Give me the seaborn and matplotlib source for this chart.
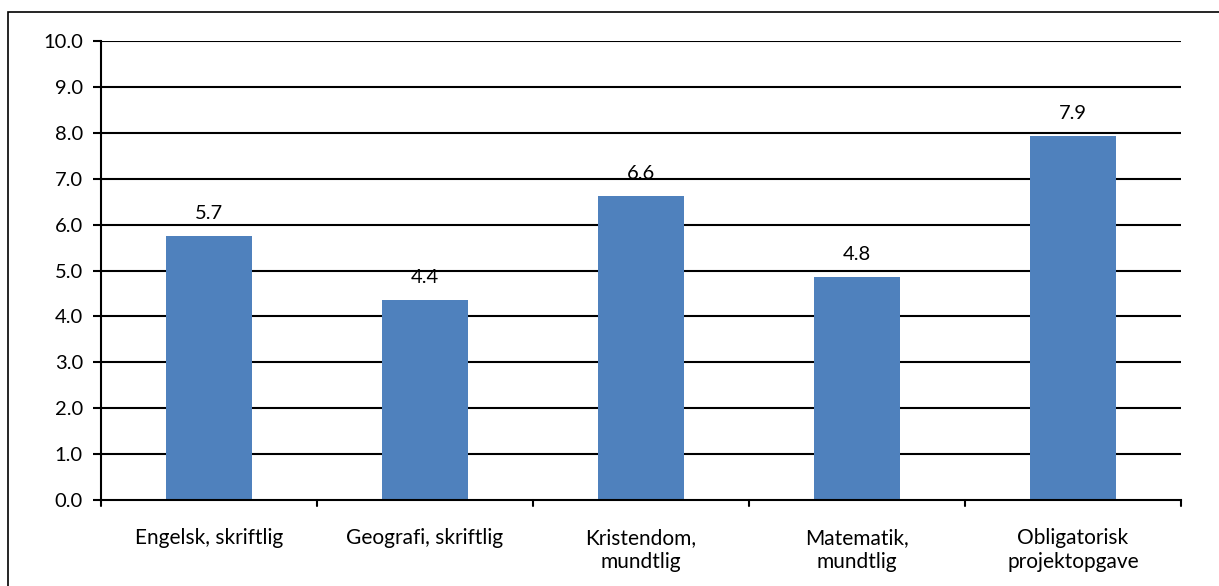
import matplotlib
matplotlib.use("Agg")
import matplotlib.pyplot as plt
import seaborn as sns
import pandas as pd
from matplotlib.patches import Rectangle

categories = ["Engelsk, skriftlig", "Geografi, skriftlig", "Kristendom,\nmundtlig",
              "Matematik,\nmundtlig", "Obligatorisk\nprojektopgave"]
values = [5.75, 4.36, 6.62, 4.85, 7.94]
labels = ["5.7", "4.4", "6.6", "4.8", "7.9"]
yticks = [0, 1, 2, 3, 4, 5, 6, 7, 8, 9, 10]

sns.set_theme(style="white")
plt.rcParams['font.family'] = ['Lato', 'DejaVu Sans']

W, H = 1219, 586
fig = plt.figure(figsize=(W / 100, H / 100), dpi=100)
ax = fig.add_axes([101 / W, 1 - 500 / H, 1080 / W, 459 / H])

df = pd.DataFrame({"cat": categories, "val": values})
sns.barplot(data=df, x="cat", y="val", color="#4F81BD", saturation=1, width=0.40,
            linewidth=0, ax=ax)

ax.set_ylim(0, 10)
ax.set_xlim(-0.5, len(categories) - 0.5)
ax.set_yticks(yticks)
ax.set_yticklabels([f"{t:.1f}" for t in yticks], fontsize=14.5, color="black")
for t in yticks[1:]:
    ax.axhline(t, color="black", lw=1.5, zorder=0.5)
ax.set_axisbelow(True)

ax.set_xticks(range(len(categories)))
ax.set_xticklabels(categories, fontsize=15, color="black", linespacing=1.25)
ax.tick_params(axis="x", length=0, pad=20)
for b in [i - 0.5 for i in range(len(categories) + 1)]:
    ax.plot([b, b], [0, -0.14], color="black", lw=1.5, clip_on=False)
ax.tick_params(axis="y", length=6, width=1.5, color="black", direction="out", left=True, pad=7)
ax.set_xlabel("")
ax.set_ylabel("")

for s in ["top", "right"]:
    ax.spines[s].set_visible(False)
for s in ["left", "bottom"]:
    ax.spines[s].set_color("black")
    ax.spines[s].set_linewidth(1.5)

for i, (v, lab) in enumerate(zip(values, labels)):
    ax.annotate(lab, (i, v), xytext=(0, 10), textcoords="offset points",
                ha="center", va="bottom", fontsize=14.5, color="black")

fig.patches.append(Rectangle((8 / W, -0.05), 1.2, 1 - 12 / H + 0.05, transform=fig.transFigure,
                             fill=False, edgecolor="black", lw=1.2))

fig.savefig("out.png", dpi=100)
